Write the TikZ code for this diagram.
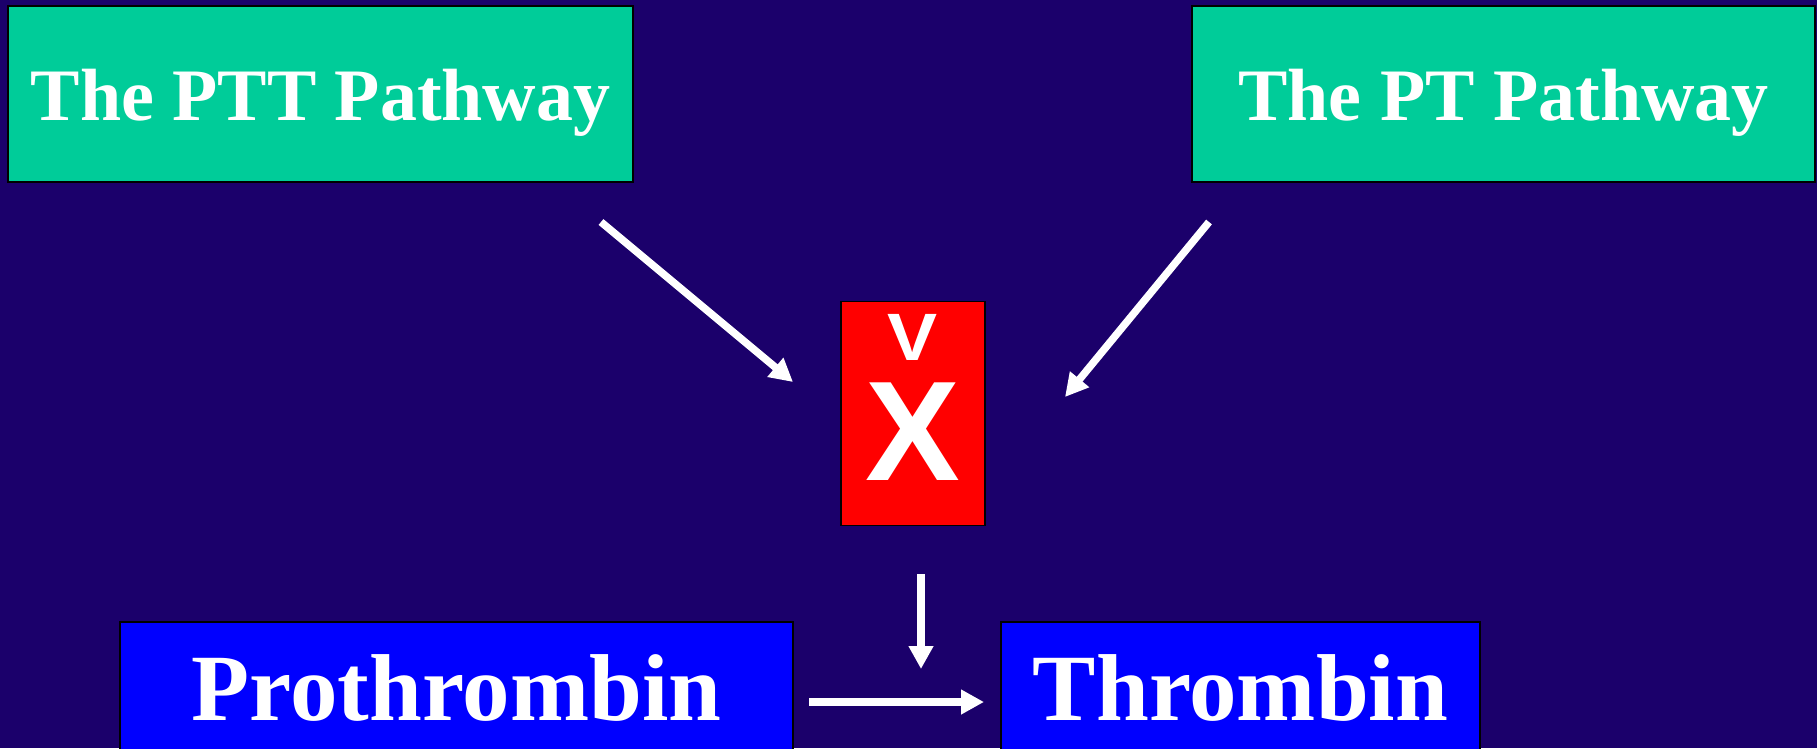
\documentclass[tikz,border=0pt]{standalone}
\usepackage{fontspec}
\setmainfont{Liberation Serif}
\newfontfamily\labelsans{Liberation Sans}
\usetikzlibrary{arrows.meta}
\definecolor{slidebg}{RGB}{27,0,107}
\definecolor{pathgreen}{RGB}{0,204,153}
\definecolor{factorred}{RGB}{255,0,0}
\definecolor{thrombblue}{RGB}{0,0,255}
\begin{document}
\begin{tikzpicture}[x=1pt,y=-1pt,
  panel/.style={draw=black, line width=1.8pt, inner sep=0pt, text=white},
  pathbox/.style={panel, fill=pathgreen, minimum height=176pt,
    text height=53.4pt, text depth=0pt,
    font=\bfseries\fontsize{74}{80}\selectfont},
  enzbox/.style={panel, fill=thrombblue, minimum height=148pt,
    text height=49.4pt, text depth=0pt,
    font=\bfseries\fontsize{95}{100}\selectfont},
  flow/.style={draw=white, line width=7.5pt,
    -{Triangle[length=23pt,width=23.5pt]}}
]
% slide background
\useasboundingbox (0,0) rectangle (1817,748);
\fill[slidebg] (0,0) rectangle (1817,748);

% pathway boxes
\node[pathbox, minimum width=625pt] (ptt) at (320.5,94) {The PTT Pathway};
\node[pathbox, minimum width=623pt] (pt) at (1503.5,94) {The PT Pathway};

% factor Va / X box
\node[panel, fill=factorred, minimum width=144pt, minimum height=224pt] (fx) at (913,413.5) {};
\node[anchor=base, inner sep=0pt, text=white, xscale=1.12, font=\labelsans\bfseries\fontsize{67}{70}\selectfont] (fv) at (913,360) {V};
\node[anchor=base, inner sep=0pt, text=white, font=\labelsans\bfseries\fontsize{142}{150}\selectfont] (fxl) at (913,480) {X};

% prothrombin to thrombin
\node[enzbox, minimum width=673pt] (pro) at (456.5,696) {Prothrombin};
\node[enzbox, minimum width=479pt] (thr) at (1240.5,696) {Thrombin};

% connector end points
\coordinate (a1s) at (601,222);
\coordinate (a1e) at (793,382);
\coordinate (a2s) at (1209,222);
\coordinate (a2e) at (1065,397);
\coordinate (a3s) at (921,574);
\coordinate (a3e) at (921,669);
\coordinate (a4s) at (809,702);
\coordinate (a4e) at (984,702);

\draw[flow] (a1s) -- (a1e);
\draw[flow] (a2s) -- (a2e);
\draw[flow] (a3s) -- (a3e);
\draw[flow] (a4s) -- (a4e);
\end{tikzpicture}
\end{document}
